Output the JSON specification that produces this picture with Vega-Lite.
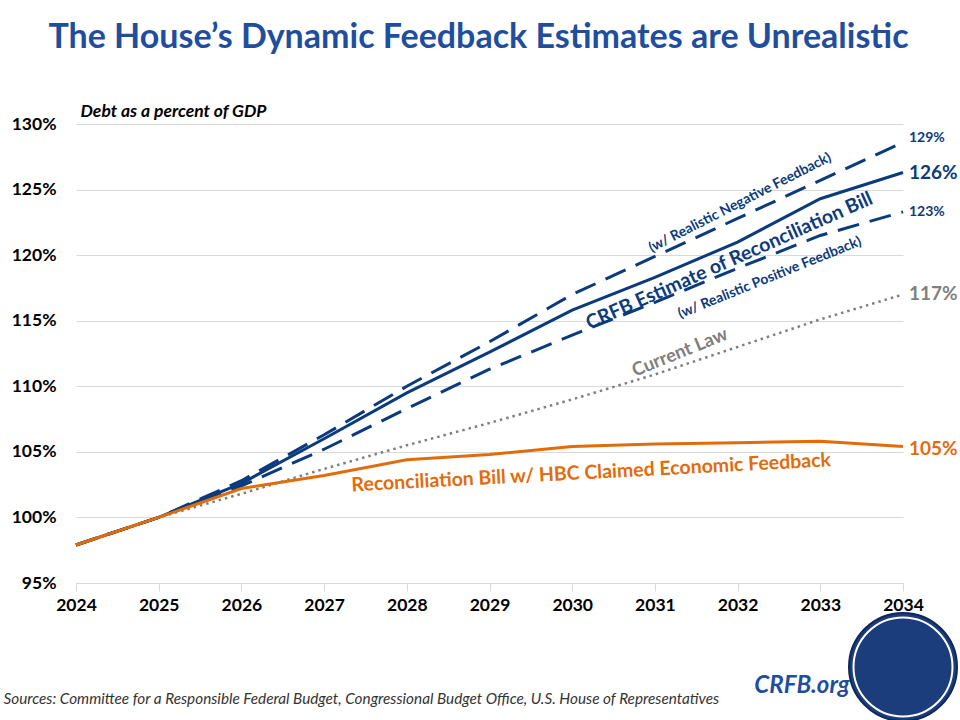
{
  "$schema": "https://vega.github.io/schema/vega-lite/v6.json",
  "width": 827,
  "height": 459,
  "autosize": {"type": "none"},
  "padding": {"left": 76, "top": 124, "right": 57, "bottom": 137},
  "background": "white",
  "config": {"view": {"stroke": null}, "font": "Lato"},
  "title": {
    "text": "The House’s Dynamic Feedback Estimates are Unrealistic",
    "font": "Lato", "fontSize": 34, "fontWeight": "bold", "color": "#1f4e9e",
    "anchor": "middle", "frame": "group", "offset": 47, "dx": -11
  },
  "datasets": {
    "debt": [
      {"year": 2024, "series": "current", "value": 97.9},
      {"year": 2025, "series": "current", "value": 100.0},
      {"year": 2026, "series": "current", "value": 101.8},
      {"year": 2027, "series": "current", "value": 103.7},
      {"year": 2028, "series": "current", "value": 105.5},
      {"year": 2029, "series": "current", "value": 107.2},
      {"year": 2030, "series": "current", "value": 109.0},
      {"year": 2031, "series": "current", "value": 110.9},
      {"year": 2032, "series": "current", "value": 113.0},
      {"year": 2033, "series": "current", "value": 115.1},
      {"year": 2034, "series": "current", "value": 117.0},
      {"year": 2024, "series": "neg", "value": 97.9},
      {"year": 2025, "series": "neg", "value": 100.0},
      {"year": 2026, "series": "neg", "value": 102.8},
      {"year": 2027, "series": "neg", "value": 106.3},
      {"year": 2028, "series": "neg", "value": 110.0},
      {"year": 2029, "series": "neg", "value": 113.4},
      {"year": 2030, "series": "neg", "value": 117.0},
      {"year": 2031, "series": "neg", "value": 119.9},
      {"year": 2032, "series": "neg", "value": 122.8},
      {"year": 2033, "series": "neg", "value": 125.7},
      {"year": 2034, "series": "neg", "value": 128.6},
      {"year": 2024, "series": "pos", "value": 97.9},
      {"year": 2025, "series": "pos", "value": 100.0},
      {"year": 2026, "series": "pos", "value": 102.4},
      {"year": 2027, "series": "pos", "value": 105.2},
      {"year": 2028, "series": "pos", "value": 108.3},
      {"year": 2029, "series": "pos", "value": 111.3},
      {"year": 2030, "series": "pos", "value": 113.9},
      {"year": 2031, "series": "pos", "value": 116.4},
      {"year": 2032, "series": "pos", "value": 119.0},
      {"year": 2033, "series": "pos", "value": 121.5},
      {"year": 2034, "series": "pos", "value": 123.3},
      {"year": 2024, "series": "crfb", "value": 97.9},
      {"year": 2025, "series": "crfb", "value": 100.0},
      {"year": 2026, "series": "crfb", "value": 102.6},
      {"year": 2027, "series": "crfb", "value": 106.0},
      {"year": 2028, "series": "crfb", "value": 109.5},
      {"year": 2029, "series": "crfb", "value": 112.6},
      {"year": 2030, "series": "crfb", "value": 115.8},
      {"year": 2031, "series": "crfb", "value": 118.3},
      {"year": 2032, "series": "crfb", "value": 121.0},
      {"year": 2033, "series": "crfb", "value": 124.3},
      {"year": 2034, "series": "crfb", "value": 126.3},
      {"year": 2024, "series": "hbc", "value": 97.9},
      {"year": 2025, "series": "hbc", "value": 100.0},
      {"year": 2026, "series": "hbc", "value": 102.2},
      {"year": 2027, "series": "hbc", "value": 103.2},
      {"year": 2028, "series": "hbc", "value": 104.4},
      {"year": 2029, "series": "hbc", "value": 104.8},
      {"year": 2030, "series": "hbc", "value": 105.4},
      {"year": 2031, "series": "hbc", "value": 105.6},
      {"year": 2032, "series": "hbc", "value": 105.7},
      {"year": 2033, "series": "hbc", "value": 105.8},
      {"year": 2034, "series": "hbc", "value": 105.4}
    ]
  },
  "encoding": {
    "x": {
      "field": "year", "type": "quantitative",
      "scale": {"domain": [2024, 2034], "nice": false, "zero": false},
      "axis": {
        "title": "Sources: Committee for a Responsible Federal Budget, Congressional Budget Office, U.S. House of Representatives",
        "values": [2024, 2025, 2026, 2027, 2028, 2029, 2030, 2031, 2032, 2033, 2034],
        "format": "d", "grid": false,
        "domainColor": "#d9d9d9", "domainWidth": 1,
        "tickColor": "#d9d9d9", "tickSize": 8, "tickWidth": 1,
        "labelFont": "Lato", "labelFontSize": 17.5, "labelFontWeight": "bold", "labelColor": "#000000",
        "labelPadding": 5, "labelFlush": false, "labelOverlap": false,
        "titleFont": "Lato", "titleFontStyle": "italic", "titleFontWeight": "normal",
        "titleFontSize": 15.3, "titleColor": "#333333",
        "titleX": -73, "titleY": 115, "titleAlign": "left", "titleAnchor": null, "titleBaseline": "middle"
      }
    },
    "y": {
      "field": "value", "type": "quantitative",
      "scale": {"domain": [95, 130], "nice": false, "zero": false},
      "axis": {
        "title": "Debt as a percent of GDP",
        "values": [95, 100, 105, 110, 115, 120, 125, 130],
        "labelExpr": "datum.value + '%'",
        "domain": false, "ticks": false, "tickSize": 0,
        "grid": true, "gridColor": "#d9d9d9", "gridWidth": 1,
        "labelFont": "Lato", "labelFontSize": 17.5, "labelFontWeight": "bold", "labelColor": "#000000",
        "labelPadding": 20,
        "titleFont": "Lato", "titleFontStyle": "italic", "titleFontWeight": "bold",
        "titleFontSize": 17.5, "titleColor": "#000000",
        "titleAngle": 0, "titleX": 4, "titleY": -8, "titleAlign": "left", "titleAnchor": null, "titleBaseline": "alphabetic"
      }
    }
  },
  "layer": [
    {
      "data": {"name": "debt"},
      "transform": [{"filter": "datum.series === 'current'"}],
      "mark": {"type": "line", "color": "#7f7f7f", "strokeWidth": 2.5, "strokeDash": [2.5, 4]}
    },
    {
      "data": {"name": "debt"},
      "transform": [{"filter": "datum.series === 'neg' || datum.series === 'pos'"}],
      "mark": {"type": "line", "color": "#0b3b7c", "strokeWidth": 3, "strokeDash": [22, 11]},
      "encoding": {"detail": {"field": "series", "type": "nominal"}}
    },
    {
      "data": {"name": "debt"},
      "transform": [{"filter": "datum.series === 'crfb'"}],
      "mark": {"type": "line", "color": "#0b3b7c", "strokeWidth": 3}
    },
    {
      "data": {"name": "debt"},
      "transform": [{"filter": "datum.series === 'hbc'"}],
      "mark": {"type": "line", "color": "#e36c0a", "strokeWidth": 3}
    },
    {
      "data": {"values": [{"year": 2034, "value": 128.9, "label": "129%"}, {"year": 2034, "value": 123.3, "label": "123%"}]},
      "mark": {"type": "text", "align": "left", "baseline": "middle", "dx": 6, "font": "Lato", "fontSize": 14, "fontWeight": "bold", "color": "#0b3b7c"},
      "encoding": {"text": {"field": "label"}}
    },
    {
      "data": {"values": [{"year": 2034, "value": 126.3, "label": "126%"}]},
      "mark": {"type": "text", "align": "left", "baseline": "middle", "dx": 6, "font": "Lato", "fontSize": 19, "fontWeight": "bold", "color": "#0b3b7c"},
      "encoding": {"text": {"field": "label"}}
    },
    {
      "data": {"values": [{"year": 2034, "value": 117.0, "label": "117%"}]},
      "mark": {"type": "text", "align": "left", "baseline": "middle", "dx": 6, "font": "Lato", "fontSize": 19, "fontWeight": "bold", "color": "#7f7f7f"},
      "encoding": {"text": {"field": "label"}}
    },
    {
      "data": {"values": [{"year": 2034, "value": 105.2, "label": "105%"}]},
      "mark": {"type": "text", "align": "left", "baseline": "middle", "dx": 6, "font": "Lato", "fontSize": 19, "fontWeight": "bold", "color": "#e36c0a"},
      "encoding": {"text": {"field": "label"}}
    },
    {
      "data": {"values": [{"year": 2032.03, "value": 123.99, "label": "(w/ Realistic Negative Feedback)"}]},
      "mark": {"type": "text", "align": "center", "baseline": "middle", "angle": -27, "font": "Lato", "fontSize": 14, "fontWeight": "bold", "color": "#0b3b7c"},
      "encoding": {"text": {"field": "label"}}
    },
    {
      "data": {"values": [{"year": 2031.9, "value": 119.55, "label": "CRFB Estimate of Reconciliation Bill"}]},
      "mark": {"type": "text", "align": "center", "baseline": "middle", "angle": -24, "font": "Lato", "fontSize": 19.5, "fontWeight": "bold", "color": "#0b3b7c"},
      "encoding": {"text": {"field": "label"}}
    },
    {
      "data": {"values": [{"year": 2032.39, "value": 118.27, "label": "(w/ Realistic Positive Feedback)"}]},
      "mark": {"type": "text", "align": "center", "baseline": "middle", "angle": -22, "font": "Lato", "fontSize": 14, "fontWeight": "bold", "color": "#0b3b7c"},
      "encoding": {"text": {"field": "label"}}
    },
    {
      "data": {"values": [{"year": 2031.3, "value": 112.6, "label": "Current Law"}]},
      "mark": {"type": "text", "align": "center", "baseline": "middle", "angle": -22, "font": "Lato", "fontSize": 18.5, "fontWeight": "bold", "color": "#7f7f7f"},
      "encoding": {"text": {"field": "label"}}
    },
    {
      "data": {"values": [{"year": 2030.23, "value": 103.4, "label": "Reconciliation Bill w/ HBC Claimed Economic Feedback"}]},
      "mark": {"type": "text", "align": "center", "baseline": "middle", "angle": -3, "font": "Lato", "fontSize": 19.5, "fontWeight": "bold", "color": "#e36c0a"},
      "encoding": {"text": {"field": "label"}}
    },
    {
      "data": {"values": [{"year": 2034, "value": 88.6}]},
      "mark": {"type": "point", "shape": "circle", "filled": true, "size": 11664, "color": "#1b3d7c", "stroke": "#10285a", "strokeWidth": 2, "opacity": 1}
    },
    {
      "data": {"values": [{"year": 2034, "value": 88.6}]},
      "mark": {"type": "point", "shape": "circle", "filled": false, "size": 9800, "stroke": "#ffffff", "strokeWidth": 2, "opacity": 1}
    },
    {
      "data": {"values": [{"year": 2032.78, "value": 87.14, "label": "CRFB.org"}]},
      "mark": {"type": "text", "align": "center", "baseline": "middle", "font": "Lato", "fontSize": 24, "fontWeight": "bold", "fontStyle": "italic", "color": "#1f4e9e"},
      "encoding": {"text": {"field": "label"}}
    }
  ]
}
